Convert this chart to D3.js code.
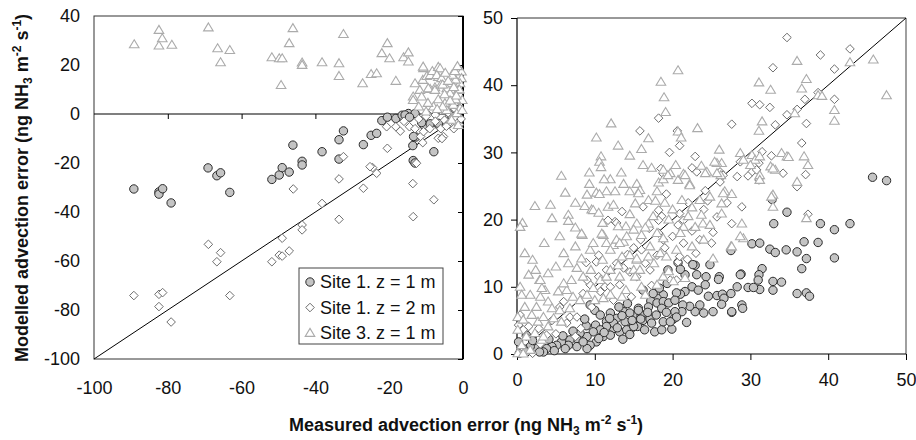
<!DOCTYPE html>
<html>
<head>
<meta charset="utf-8">
<script src="https://cdn.jsdelivr.net/npm/d3@7"></script>
<style>
  body { margin: 0; background: #fff; }
  svg { display: block; }
</style>
</head>
<body>
<div id="chart"></div>
<script>
// ---- data ----
const seriesNames = ["Site 1. z = 1 m", "Site 1. z = 2 m", "Site 3. z = 1 m"]

const leftXTicks = [-100, -80, -60, -40, -20, 0]
const leftYTicks = [-100, -80, -60, -40, -20, 0, 20, 40]
const rightXTicks = [0, 10, 20, 30, 40, 50]
const rightYTicks = [0, 10, 20, 30, 40, 50]

// left panel: measured vs modelled, negative errors
const leftCircles = [
  [-89.2, -30.6], [-82.4, -31.8], [-82.4, -32.7], [-81.4, -30.5], [-79.1, -36.3],
  [-69.1, -22], [-66.7, -25.2], [-65.7, -24], [-63.2, -32], [-51.8, -26.7],
  [-49.8, -24.9], [-49, -21.9], [-47.1, -23.7], [-46.1, -12.7], [-43.6, -19.3],
  [-43.6, -20.8], [-38.2, -15.4], [-33.6, -10.5], [-32.4, -6.9], [-33.6, -18.4],
  [-27, -12.5], [-24.9, -8.7], [-23.4, -7.9], [-22, -2.7], [-20.5, -1.3],
  [-18.2, -1.8], [-16.5, -0.5], [-14.8, 0.2], [-13, 0.2], [-13.6, -12.9],
  [-12.8, -9.4], [-13.5, -19], [-13, -20], [-10.7, -2.7], [-10.7, -4.5],
  [-8.9, -4], [-7.9, -15.4], [-6.7, -4.4], [-15.7, -0.4], [-14.5, -1.3],
  [-11.2, -3.5], [-6.7, -3.8], [-13.4, -9.2], [-4, -2], [-2, 0.5], [-1, 2], [-3, -1]
]
const leftDiamonds = [
  [-32.4, -17.4], [-33.6, -26.5], [-46, -30.6], [-27, -30.3], [-24.5, -21.9],
  [-23.4, -24.2], [-20.5, -14], [-13.6, -28.4], [-12.6, -20.1], [-11.5, -9.2],
  [-10.9, -11.7], [-7.9, -35], [-6.7, -9.9], [-5.3, -9.2], [-20.7, -5.2],
  [-18.2, -5.2], [-14.5, -5.2], [-10.7, -7.2], [-8.3, 1.6], [-7.5, -0.4],
  [-5, -2.5], [-3.7, -3.5], [-1, -4.4], [-38.2, -36.5], [-33.6, -43],
  [-43.6, -45.3], [-43.6, -47.3], [-49, -50.7], [-49.8, -57.6], [-49, -58],
  [-47.1, -55.9], [-51.8, -60.3], [-69, -53.2], [-65.7, -56.6], [-66.7, -60.3],
  [-63.2, -74.1], [-89.2, -74.1], [-82.4, -73.6], [-81.4, -72.9], [-82.4, -78.6],
  [-79.1, -84.9], [-13.5, -41.9], [-5.7, -10], [-25.2, -21.5], [-2, -1],
  [-1, 1], [-3, 3], [-4, 0.5], [-6, -6], [-9, -6], [-16, -3], [-12, -2],
  [-4.5, -5], [-2.5, -6], [-7.5, -3], [-10, -1], [-13, -6], [-17, -7],
  [-0.5, -2], [-2.5, 2.5], [-6, 1.5]
]
const leftTriangles = [
  [-89.1, 28.4], [-82.4, 34.3], [-81.5, 30.9], [-82.4, 27.9], [-78.9, 28.2],
  [-69, 35.3], [-66.5, 26.8], [-65.7, 21.1], [-63.2, 26.1], [-51.8, 23.1],
  [-49.8, 22.7], [-49, 22.7], [-49.3, 11.8], [-47.1, 28.9], [-46.1, 35],
  [-43.6, 21], [-43.6, 20], [-38.2, 21.1], [-33.6, 20.7], [-33.6, 15.5],
  [-32.4, 32.6], [-27.2, 12.5], [-24.9, 16.3], [-23.4, 16.6], [-22, 24.8],
  [-20.5, 28.9], [-19.9, 22.7], [-18.2, 13.5], [-16.1, 23.1], [-14.8, 25.1],
  [-14.8, 21.4], [-13, 12.5], [-13.5, 7.1], [-10.7, 18.7], [-10.9, 13.9],
  [-9.8, 15.5], [-8.9, 15.9], [-8.3, 17.5], [-6.7, 19.2], [-6.7, 15.1],
  [-7.6, 10.9], [-8.9, 10.2], [-0.4, 17.3], [-0.4, 14.6], [-10.8, 19.3],
  [-6.2, 18.6], [-7.1, 15.9], [-5.8, 14.6], [-3.1, 12.5], [-0.8, 12.5],
  [-11.7, 9.8], [-9.4, 10.5], [-7.6, 9.8], [-4.4, 10.5], [-3.5, 8.4],
  [-1.3, 9.8], [-0.2, 5.7], [-13.5, 5.7], [-11.2, 7.1], [-6.7, 6],
  [-4.9, 4.4], [-2.6, 3.7], [-0.8, 2.3], [-4.4, 1.6], [-1.7, 0.3],
  [-3.1, -2.4], [-1.3, -4.5], [-0.2, 1.6], [-2, 6], [-5, 8], [-8, 3],
  [-10, 1], [-6, 12], [-2, 14], [-1, 10], [-3, 16],
  [-5.5, 12], [-4, 13.5], [-2.5, 11], [-1.8, 7.5], [-3.5, 5.5], [-5.5, 3],
  [-7, 2], [-9.5, 4.5], [-12, 3], [-2.2, 17.5], [-4.8, 16.8], [-1.5, 19.5]
]

// right panel: positive errors
const rightCircles = [
  [45.7, 26.3], [47.5, 25.8], [32.8, 23], [33, 19.4], [34.7, 21.1], [39, 19.4],
  [40.8, 18.5], [42.8, 19.4], [40.8, 14.3], [38.7, 16.6], [36.9, 16.7], [37.2, 14.2],
  [36.6, 12.7], [34.6, 15.5], [36, 15.2], [32.5, 15.6], [33.2, 15.1], [30.2, 16.4],
  [31.2, 16.5], [31.5, 12.7], [31.1, 11.8], [31, 11], [31.2, 9.6], [32.9, 10.8],
  [32.9, 9.5], [34, 10.7], [36, 9], [37.2, 9.1], [37.6, 8.6], [29.7, 9.9],
  [30.4, 9.9], [28.3, 10], [28.8, 11.9], [27.5, 15.4], [28.9, 7.3], [27.6, 6.2],
  [29, 6.8], [22.9, 13.2], [21.6, 11.8], [23.1, 11.8], [24.3, 11.5], [24.2, 10.3],
  [26, 11.5], [25.9, 11.1], [28.7, 11.8], [22.5, 10], [21.6, 9.3], [21, 8.9],
  [20.5, 9.1], [24.6, 8.6], [25.7, 8.7], [26.4, 8.9], [26.6, 8.3], [26.3, 7.4],
  [25.2, 6.3], [24, 6.1], [22.9, 6.3], [22.2, 7.1], [21.3, 7.3], [21.2, 6.3],
  [20.3, 6.3], [20.1, 5.2], [21.8, 4.7], [20.5, 5.5], [27.6, 6.3], [18.8, 8.8],
  [18, 8.3], [17.2, 7.9], [18, 7.6], [18.8, 7.8], [18.6, 6.8], [16.9, 7],
  [16.2, 5.8], [15.6, 6.8], [15.4, 5.5], [14.9, 5.8], [16.2, 5], [17.1, 5.2],
  [17.3, 4.6], [17.7, 3.3], [18.6, 3.6], [18.8, 4.8], [19.9, 3.7], [19.7, 4.8],
  [15.5, 4.1], [14.7, 3.8], [16.2, 9.5], [19.4, 12.5], [20.7, 13.6], [22.6, 13.3],
  [10.1, 4.3], [11.5, 4.8], [12.4, 3.8], [8.9, 4.2], [9.4, 7.3], [10, 6.5],
  [10.7, 5.8], [12, 6.1], [12.8, 5.3], [13.7, 6.3], [14.5, 6.1], [15.6, 6.5],
  [13.9, 4.8], [12.4, 4.6], [11.5, 4.1], [10.7, 3.6], [9.8, 3.3], [9, 2.6],
  [8.1, 3.1], [7.7, 2.3], [6.8, 2.1], [6.6, 1.3], [5.7, 1.8], [5.1, 1.3],
  [4.5, 1.1], [3.8, 0.8], [3.4, 0.3], [2.5, 0.8], [1.7, 1.1], [0.8, 0.8],
  [0.2, 1.8], [0.3, 0.1], [10.2, 1.8], [9.4, 1.3], [9, 0.8], [7.7, 1.1],
  [11.1, 2.6], [12, 2.8], [13.2, 3.3], [14.1, 3.6], [15, 4.1],
  [13.5, 5.7], [14.8, 5], [15.9, 5.2], [12.9, 3.9], [14.5, 2.9], [16.4, 3.6],
  [11.2, 3.2], [13.6, 2.2], [8.5, 1.8], [6.2, 0.8], [4.8, 0.5], [2.9, 0.3],
  [1.2, 0.3], [10.5, 2.3], [16.8, 6.2], [17.9, 5.8], [19.2, 6.2], [19.5, 7.6],
  [20.3, 8], [23.5, 7.3], [13.1, 7], [14.2, 7.5], [11.9, 5.3], [17.5, 9],
  [19.3, 10.5], [21, 12.6], [18.3, 9.8], [24.8, 13.3], [23.3, 9.5], [27.5, 9],
  [5.9, 2.7], [7.2, 3.4], [8.7, 5.2], [4.1, 2.2], [2, 2], [1.2, 2.8]
]
const rightDiamonds = [
  [34.7, 47.1], [39, 44.5], [42.8, 45.4], [40.8, 42.4], [32.9, 42.6], [30.2, 37.3],
  [31.2, 37.1], [32.5, 36.7], [37, 37.9], [38.7, 38.9], [40.8, 37.9], [34.7, 35.6],
  [36, 36.4], [33.2, 34.1], [27.6, 34.2], [37.2, 34.3], [36.6, 31.4], [37.1, 26.7],
  [36, 24.9], [32.7, 29.5], [31.5, 30.1], [31.1, 28.4], [31.1, 25.9], [30.2, 27.1],
  [29.7, 26.5], [28.7, 28.6], [28.3, 26.4], [26.1, 27.1], [24.2, 24.3], [23.1, 27.1],
  [22.9, 29.4], [22.5, 27.7], [20.9, 31], [20.6, 33.2], [19.6, 30], [18.2, 35.1],
  [15.8, 33.2], [18.5, 27.6], [19.2, 23.8], [37.4, 20.8], [28.9, 21.9], [27.6, 19.4],
  [25.2, 18.1], [24.5, 22.8], [21.9, 14.1], [20.7, 13.7], [20.5, 11], [21.4, 16.5],
  [18.8, 17], [18.2, 18], [16.2, 21.9], [13.5, 21.2], [12.6, 19.7], [11.7, 19.9],
  [8.9, 13.6], [5.5, 7], [0.2, 4.3], [0.4, 5.8], [14.7, 8.5], [10.5, 14.7],
  [10.2, 13.7], [9.4, 10.3], [9.6, 7], [8.2, 3.8], [7.5, 2.6], [2, 0.1],
  [15.9, 17], [17, 18.7], [18, 14.7], [20.9, 14.5], [19.7, 11], [17.1, 12.5],
  [15.4, 11.5], [12.8, 13.5], [13.7, 12.8], [11.5, 12.5], [11.3, 10], [12.4, 8],
  [6.8, 5.5], [6.4, 4.6], [3.8, 2.8], [1.2, 2.6], [0.6, 1.1], [34.2, 26.9],
  [18.8, 26.8], [26.5, 26.6], [26.1, 25.6], [30.8, 27.4], [18.2, 21.4], [18.6, 20.5],
  [18.2, 19.9], [20.9, 20.9], [21.4, 19.9], [25.7, 20.4], [20.7, 19.2], [12.8, 19.5],
  [10.7, 9.3], [12, 10], [13.2, 10.3], [7.7, 5.5], [1.5, 4.1], [0.8, 3.6],
  [14.2, 14.8], [16, 15.5], [19, 15.8], [22.5, 18.3], [23.5, 17], [17.3, 10.2],
  [8.5, 9], [6, 7.8], [4.5, 5], [2.8, 3.8], [3, 1.5], [5, 3], [10.5, 11.5],
  [9, 11], [14.5, 12.2], [16.5, 13.5], [20, 17.5], [22, 22.5], [24, 21.5],
  [27, 22.5], [25, 16.5], [23, 15], [15, 15.8]
]
const rightTriangles = [
  [45.8, 43.8], [47.5, 38.5], [42.8, 43.4], [36, 43.6], [37.2, 40.9], [36.6, 39.5],
  [38.7, 38.5], [39.2, 38.4], [40.8, 36.3], [40.8, 34.7], [35.7, 35.8], [31.1, 40.4],
  [32.6, 39.3], [31.5, 34.6], [31.1, 33.2], [20.7, 42.2], [18.5, 40.5], [18.9, 38.2],
  [19.1, 36], [23.2, 33.6], [20.7, 33.1], [21.1, 32.2], [12.1, 34.3], [10.2, 32.2],
  [16.9, 32.1], [10.8, 29.4], [10.6, 28.6], [5.7, 26.5], [9.3, 27], [9.3, 25.3],
  [12, 26], [13.4, 27], [13.7, 25.3], [14.5, 24.2], [12.6, 24.2], [15.4, 25.3],
  [15.8, 24.4], [16.2, 28.1], [17.3, 27.7], [18.2, 25.5], [18, 24.2], [18.8, 26],
  [19.7, 26.9], [20.4, 28.1], [20.7, 25.9], [21.4, 26.8], [22.2, 25.3], [23.7, 28],
  [24.4, 27.1], [26, 30.4], [26.3, 28.4], [25.7, 28.4], [26.2, 26.6], [27.6, 23.8],
  [26.7, 24.2], [28.7, 29.9], [29.1, 28.9], [30.2, 29.6], [30.6, 28.9], [30, 28.1],
  [31.2, 26.6], [32.6, 27.9], [33.2, 27.4], [34, 29.9], [34.7, 29.4], [36.9, 29.4],
  [37.4, 28.1], [32.9, 23.7], [36, 25.6], [9, 23.7], [10.2, 24], [11.5, 24.2],
  [10.8, 27.8], [10.6, 23.8], [8.7, 22], [9.6, 21.5], [2.3, 22], [4.3, 22.2],
  [4.5, 20.2], [6.6, 20.7], [6.6, 19.8], [0.7, 19.5], [0.4, 18.9], [11.7, 21.9],
  [12.4, 22.2], [15.2, 22.4], [25.4, 28.6], [25.7, 26.9], [18.8, 27.4], [19.4, 26.6],
  [21.6, 26.6], [22.2, 25.1], [24.2, 26.9], [15.6, 23.9], [16.9, 22.9], [16.9, 19.4],
  [15.4, 19.4], [21.2, 22.9], [23.5, 22.9], [24.8, 23.4], [26.3, 22.4], [26.3, 20.9],
  [23.7, 20.7], [23.9, 19.4], [22.9, 18.9], [24.8, 19.2], [21.4, 18.9], [28.9, 19.4],
  [34.9, 29.3], [32.9, 27.6], [31.2, 29.4], [31.2, 25.9], [32.9, 21.9], [37.2, 20.2],
  [8.4, 17.7], [9.8, 21.4], [11.1, 17.7], [11.5, 16.5], [12.4, 16.2], [13.7, 16.7],
  [1.5, 11.8], [2.9, 11], [3.6, 9.5], [0.4, 10], [1.7, 8.8], [25.2, 14.2],
  [27.5, 16], [29.1, 17.2], [32.7, 23.4], [26.5, 23.9], [21.6, 11.3], [8.3, 17.9],
  [10.9, 17.9], [12.8, 17], [14.1, 17.5], [3, 11], [3.2, 9.8], [0.6, 8.8],
  [3, 8.5], [5.3, 9.3], [6.4, 9.5], [4, 7.8], [4.5, 6.8], [5.5, 6.5],
  [6.8, 6.8], [7.2, 8.5], [8.1, 8], [9, 8.8], [9.8, 9.8], [10, 8],
  [11.1, 8.3], [12, 8.8], [10.7, 11], [11.5, 11.5], [12, 12.5], [13, 13.2],
  [13.2, 11.5], [0.1, 5.5], [0.8, 5.1], [1.9, 5.8], [2.7, 4.8], [3.4, 5.5],
  [4.7, 5.3], [5.7, 4.8], [0.1, 3.6], [1.2, 2.6], [2.3, 3.1], [3.2, 2.1],
  [0.6, 1.3], [1.7, 0.6], [0.1, 0.1], [0.8, 0.05], [4, 4.1], [3.4, 2.6],
  [7.7, 12.8], [6.6, 13.5], [8.3, 14.2], [9.4, 15.5], [9.8, 16.5], [12, 15.5],
  [13.2, 16.5], [14.5, 14.7], [15.4, 14], [15, 12.5], [16, 17.7], [18, 18],
  [18.8, 17.2], [21, 18], [17.1, 16], [18.4, 15], [19.2, 14.5], [20.5, 15.5],
  [27.6, 16], [28.7, 17.5], [15.4, 14.2], [16.9, 14.5], [17.6, 13.5], [15.8, 12.5],
  [18.8, 11.5], [20.1, 10.8], [18, 10.3], [15.2, 11.5], [2.4, 12.5],
  [14, 19], [15, 18.5], [16.5, 18.8], [17.5, 20.5], [19.5, 20], [20, 21.5],
  [22, 20.5], [19, 22.5], [14.5, 20.8], [13, 19], [11, 19.5], [10.5, 21],
  [7.5, 16], [6, 15], [5, 13], [4, 12], [7, 11], [8.5, 11.5], [9.5, 12.5],
  [6, 10.5], [11, 14], [13.5, 14.5], [14, 9.5], [16, 10], [16.5, 8.8],
  [13.5, 8.5], [2, 14], [1, 15], [3.5, 16.5], [5.5, 17.5], [2.5, 7], [1, 7],
  [7.5, 18.8], [19.5, 12.3], [22.5, 16], [24, 17], [22.5, 21.8], [17.8, 22.8],
  [11.2, 26], [14.5, 29.5], [16, 30.5], [13, 31], [7.5, 22.5], [6.2, 24]
]

// ---- layout ----
const width = 916, height = 440
const font = "'Liberation Sans', Arial, sans-serif"

const svg = d3.select("#chart").append("svg")
  .attr("width", width).attr("height", height)
  .style("font-family", font)

const xL = d3.scaleLinear().domain([-100, 0]).range([94, 463])
const yL = d3.scaleLinear().domain([-100, 40]).range([359, 16])
const xR = d3.scaleLinear().domain([0, 50]).range([517, 906])
const yR = d3.scaleLinear().domain([0, 50]).range([354, 18])

// plain hyphen for negatives, as in the original
const fmt = d => String(d)

const styleAxis = (g, showText) => {
  g.select(".domain").remove()
  g.selectAll(".tick line").attr("stroke", "#000")
  g.selectAll(".tick text").attr("font-size", 18).attr("fill", "#111")
  if (!showText) g.selectAll(".tick text").remove()
}

// ---- left panel ----
const left = svg.append("g")

// plot area frame
left.append("rect")
  .attr("x", xL(-100)).attr("y", yL(40))
  .attr("width", xL(0) - xL(-100)).attr("height", yL(-100) - yL(40))
  .attr("fill", "none").attr("stroke", "#333").attr("stroke-width", 1)

// y axis sits at x = 0 (right edge), ticks inward
left.append("g").attr("transform", `translate(${xL(0)},0)`)
  .call(d3.axisLeft(yL).tickValues(leftYTicks).tickSize(5))
  .call(g => styleAxis(g, false))
left.append("line")
  .attr("x1", xL(0)).attr("x2", xL(0)).attr("y1", yL(40)).attr("y2", yL(-100))
  .attr("stroke", "#000").attr("stroke-width", 2)
// y labels at the low side
left.append("g").attr("transform", `translate(${xL(-100)},0)`)
  .call(d3.axisLeft(yL).tickValues(leftYTicks).tickFormat(fmt).tickSize(0).tickPadding(14))
  .call(g => styleAxis(g, true))

// x axis sits at y = 0, ticks downward
left.append("g").attr("transform", `translate(0,${yL(0)})`)
  .call(d3.axisBottom(xL).tickValues(leftXTicks.slice(1, -1)).tickSize(5))
  .call(g => styleAxis(g, false))
left.append("line")
  .attr("x1", xL(-100)).attr("x2", xL(0)).attr("y1", yL(0)).attr("y2", yL(0))
  .attr("stroke", "#000").attr("stroke-width", 1.2)
// x labels at the low side
left.append("g").attr("transform", `translate(0,${yL(-100)})`)
  .call(d3.axisBottom(xL).tickValues(leftXTicks).tickFormat(fmt).tickSize(0).tickPadding(22))
  .call(g => styleAxis(g, true))

// 1:1 line
left.append("line")
  .attr("x1", xL(-100)).attr("y1", yL(-100)).attr("x2", xL(0)).attr("y2", yL(0))
  .attr("stroke", "#000").attr("stroke-width", 1)

// ---- right panel ----
const right = svg.append("g")

right.append("line")
  .attr("x1", xR(0)).attr("x2", xR(50)).attr("y1", yR(50)).attr("y2", yR(50))
  .attr("stroke", "#333")
right.append("line")
  .attr("x1", xR(50)).attr("x2", xR(50)).attr("y1", yR(50)).attr("y2", yR(0))
  .attr("stroke", "#888").attr("stroke-width", 1.6)

right.append("g").attr("transform", `translate(${xR(0)},0)`)
  .call(d3.axisLeft(yR).tickValues(rightYTicks).tickFormat(fmt).tickSize(6).tickPadding(8))
  .call(g => styleAxis(g, true))
right.append("line")
  .attr("x1", xR(0)).attr("x2", xR(0)).attr("y1", yR(50)).attr("y2", yR(0))
  .attr("stroke", "#000").attr("stroke-width", 1.2)

right.append("g").attr("transform", `translate(0,${yR(0)})`)
  .call(d3.axisBottom(xR).tickValues(rightXTicks).tickFormat(fmt).tickSize(6).tickPadding(13))
  .call(g => styleAxis(g, true))
right.append("line")
  .attr("x1", xR(0)).attr("x2", xR(50)).attr("y1", yR(0)).attr("y2", yR(0))
  .attr("stroke", "#000").attr("stroke-width", 1.2)

right.append("line")
  .attr("x1", xR(0)).attr("y1", yR(0)).attr("x2", xR(50)).attr("y2", yR(50))
  .attr("stroke", "#000").attr("stroke-width", 1)

// ---- markers ----
const diamondPath = "M0,-4.3L4.3,0L0,4.3L-4.3,0Z"
const trianglePath = "M0,-4.6L4.8,3.4L-4.8,3.4Z"

function drawSeries(g, data, x, y, kind) {
  const sel = g.append("g").selectAll("path,circle").data(data)
  if (kind === "circle") {
    sel.join("circle")
      .attr("cx", d => x(d[0])).attr("cy", d => y(d[1])).attr("r", 4.2)
      .attr("fill", "#c4c4c4").attr("stroke", "#2b2b2b").attr("stroke-width", 1)
  } else if (kind === "diamond") {
    sel.join("path")
      .attr("d", diamondPath)
      .attr("transform", d => `translate(${x(d[0])},${y(d[1])})`)
      .attr("fill", "#fff").attr("stroke", "#6e6e6e").attr("stroke-width", 1)
  } else {
    sel.join("path")
      .attr("d", trianglePath)
      .attr("transform", d => `translate(${x(d[0])},${y(d[1])})`)
      .attr("fill", "#fff").attr("stroke", "#ababab").attr("stroke-width", 1.1)
  }
}

drawSeries(left, leftCircles, xL, yL, "circle")
drawSeries(left, leftDiamonds, xL, yL, "diamond")
drawSeries(left, leftTriangles, xL, yL, "triangle")
drawSeries(right, rightCircles, xR, yR, "circle")
drawSeries(right, rightDiamonds, xR, yR, "diamond")
drawSeries(right, rightTriangles, xR, yR, "triangle")

// ---- legend ----
const legend = svg.append("g").attr("transform", "translate(299,268)")
legend.append("rect")
  .attr("width", 144).attr("height", 76)
  .attr("fill", "#fff").attr("stroke", "#444").attr("stroke-width", 1)
const kinds = ["circle", "diamond", "triangle"]
seriesNames.forEach((name, i) => {
  const row = legend.append("g").attr("transform", `translate(0,${14 + i * 25.5})`)
  drawSeries(row, [[0, 0]], v => 11, v => 0, kinds[i])
  row.append("text")
    .attr("x", 21).attr("dy", "0.35em")
    .attr("font-size", 18).attr("fill", "#111")
    .text(name)
})

// ---- axis titles ----
function unitTitle(sel, lead) {
  sel.append("tspan").text(lead + " (ng NH")
  sel.append("tspan").attr("font-size", 12).attr("dy", 4).text("3")
  sel.append("tspan").attr("dy", -4).text(" m")
  sel.append("tspan").attr("font-size", 12).attr("dy", -7).text("-2")
  sel.append("tspan").attr("dy", 7).text(" s")
  sel.append("tspan").attr("font-size", 12).attr("dy", -7).text("-1")
  sel.append("tspan").attr("dy", 7).text(")")
}

svg.append("text")
  .attr("transform", "rotate(-90)")
  .attr("x", -188).attr("y", 28)
  .attr("text-anchor", "middle")
  .attr("font-size", 18).attr("font-weight", "bold").attr("fill", "#111")
  .call(t => unitTitle(t, "Modelled advection error"))

svg.append("text")
  .attr("x", 466).attr("y", 431)
  .attr("text-anchor", "middle")
  .attr("font-size", 18).attr("font-weight", "bold").attr("fill", "#111")
  .call(t => unitTitle(t, "Measured advection error"))
</script>
</body>
</html>
